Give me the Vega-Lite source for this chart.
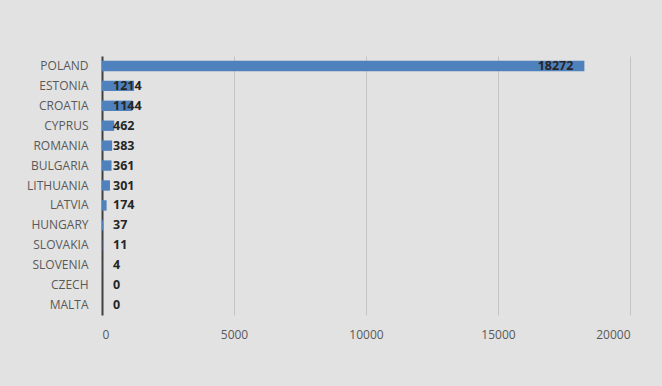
{
  "$schema": "https://vega.github.io/schema/vega-lite/v6.json",
  "width": 528,
  "height": 259,
  "autosize": "none",
  "padding": {"left": 102, "top": 56, "right": 32, "bottom": 71},
  "background": "#e2e2e2",
  "config": {
    "view": {"stroke": null},
    "font": "Open Sans",
    "axis": {"labelFont": "Open Sans", "labelColor": "#595959", "labelFontSize": 12}
  },
  "data": {
    "values": [
      {"country": "POLAND", "value": 18272},
      {"country": "ESTONIA", "value": 1214},
      {"country": "CROATIA", "value": 1144},
      {"country": "CYPRUS", "value": 462},
      {"country": "ROMANIA", "value": 383},
      {"country": "BULGARIA", "value": 361},
      {"country": "LITHUANIA", "value": 301},
      {"country": "LATVIA", "value": 174},
      {"country": "HUNGARY", "value": 37},
      {"country": "SLOVAKIA", "value": 11},
      {"country": "SLOVENIA", "value": 4},
      {"country": "CZECH", "value": 0},
      {"country": "MALTA", "value": 0}
    ]
  },
  "encoding": {
    "y": {
      "field": "country", "type": "nominal", "sort": null,
      "scale": {"paddingInner": 0.48, "paddingOuter": 0.24},
      "axis": {"title": null, "ticks": false, "domain": true, "domainColor": "#404040", "domainWidth": 2, "labelPadding": 14, "labelFontSize": 12, "grid": false}
    }
  },
  "layer": [
    {
      "mark": {"type": "bar", "color": "#4f81bd"},
      "encoding": {
        "x": {
          "field": "value", "type": "quantitative",
          "scale": {"domain": [0, 20000], "nice": false},
          "axis": {"title": null, "values": [0, 5000, 10000, 15000, 20000], "format": "d", "grid": true, "gridColor": "#c4c4c4", "gridWidth": 1, "domain": false, "ticks": false, "labelPadding": 14, "labelFontSize": 12}
        }
      }
    },
    {
      "transform": [{"filter": "datum.value > 5000"}],
      "mark": {"type": "text", "align": "right", "dx": -11, "fontWeight": "bold", "fontSize": 12.5, "color": "#262626"},
      "encoding": {
        "x": {"field": "value", "type": "quantitative"},
        "text": {"field": "value", "type": "quantitative", "format": "d"}
      }
    },
    {
      "transform": [{"filter": "datum.value <= 5000"}],
      "mark": {"type": "text", "align": "left", "dx": 11, "fontWeight": "bold", "fontSize": 12.5, "color": "#262626"},
      "encoding": {
        "x": {"datum": 0, "type": "quantitative"},
        "text": {"field": "value", "type": "quantitative", "format": "d"}
      }
    }
  ]
}
